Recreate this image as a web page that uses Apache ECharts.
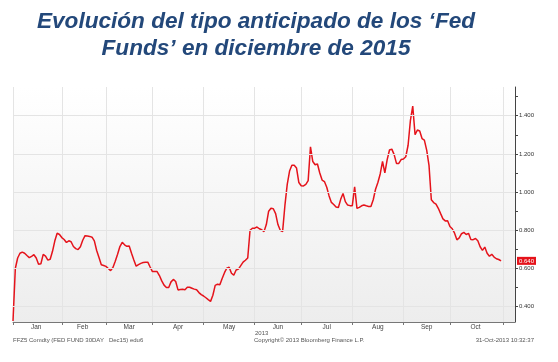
<!DOCTYPE html>
<html><head><meta charset="utf-8">
<script src="https://cdn.jsdelivr.net/npm/echarts@6/dist/echarts.min.js"></script>
<style>html,body{margin:0;padding:0;background:#fff}#c{width:558px;height:362px}</style>
</head><body><div id="c"></div>
<script>
const monthNames = ['Jan','Feb','Mar','Apr','May','Jun','Jul','Aug','Sep','Oct','Nov'];
const holidays = ['2013-01-21','2013-02-18','2013-03-29','2013-05-27','2013-07-04','2013-09-02'];
const firstDay = '2013-01-02';
const lastAxisDay = '2013-11-08';
const rateValues = [
0.325,0.60,0.655,0.68,0.686,0.68,0.668,0.657,0.664,0.672,
0.655,0.622,0.625,0.674,0.665,0.644,0.648,0.69,0.745,0.785,
0.778,0.762,0.752,0.736,0.745,0.74,0.715,0.704,0.699,0.714,
0.748,0.772,0.770,0.768,0.764,0.745,0.694,0.658,0.62,0.616,
0.611,0.60,0.589,0.605,0.638,0.675,0.715,0.737,0.724,0.716,
0.718,0.68,0.645,0.612,0.62,0.627,0.631,0.633,0.633,0.608,
0.584,0.584,0.584,0.563,0.535,0.513,0.501,0.501,0.53,0.543,
0.532,0.488,0.49,0.491,0.489,0.502,0.502,0.497,0.492,0.489,
0.474,0.463,0.456,0.447,0.437,0.428,0.46,0.512,0.518,0.515,
0.548,0.578,0.602,0.607,0.575,0.565,0.592,0.597,0.615,0.633,
0.643,0.655,0.80,0.811,0.811,0.817,0.808,0.803,0.793,0.83,
0.90,0.915,0.913,0.887,0.83,0.80,0.793,0.93,1.04,1.11,
1.14,1.14,1.126,1.05,1.033,1.032,1.04,1.06,1.237,1.16,
1.143,1.147,1.10,1.063,1.055,1.025,0.98,0.946,0.935,0.922,
0.919,0.962,0.993,0.95,0.932,0.929,0.929,1.028,0.915,0.92,
0.928,0.932,0.928,0.925,0.924,0.96,1.015,1.05,1.095,1.16,
1.10,1.17,1.22,1.225,1.196,1.15,1.15,1.17,1.173,1.185,
1.245,1.375,1.45,1.30,1.325,1.32,1.28,1.272,1.22,1.14,
0.96,0.945,0.937,0.915,0.887,0.86,0.849,0.85,0.82,0.808,
0.785,0.75,0.76,0.782,0.789,0.778,0.784,0.752,0.751,0.757,
0.745,0.714,0.695,0.712,0.68,0.664,0.674,0.66,0.651,0.647,
0.640
];
const yTickValues = [0.4,0.5,0.6,0.7,0.8,0.9,1.0,1.1,1.2,1.3,1.4,1.5];
const yLabelValues = [0.4,0.6,0.8,1.0,1.2,1.4];
const lastValueLabel = 0.640;
const titleText = 'Evolución del tipo anticipado de los ‘Fed\nFunds’ en diciembre de 2015';
const footerLeft = 'FFZ5 Comdty (FED FUND 30DAY   Dec15) edu6';
const footerMid = 'Copyright© 2013 Bloomberg Finance L.P.';
const footerRight = '31-Oct-2013 10:32:37';
const yearLabel = '2013';

// trading-day categories
const dates = [];
{
  const end = new Date(lastAxisDay + 'T00:00:00Z');
  for (let d = new Date(firstDay + 'T00:00:00Z'); d <= end; d.setUTCDate(d.getUTCDate() + 1)) {
    const wd = d.getUTCDay();
    const s = d.toISOString().slice(0, 10);
    if (wd === 0 || wd === 6 || holidays.includes(s)) continue;
    dates.push(s);
  }
}
const monthStart = [];
dates.forEach((s, i) => { if (i === 0 || s.slice(5, 7) !== dates[i - 1].slice(5, 7)) monthStart.push(i); });
const tickSet = new Set(monthStart);
const labelMap = {};
for (let k = 0; k < monthStart.length - 1; k++) {
  const mid = Math.floor((monthStart[k] + monthStart[k + 1]) / 2);
  labelMap[mid] = monthNames[parseInt(dates[monthStart[k]].slice(5, 7), 10) - 1];
}

const chart = echarts.init(document.getElementById('c'));
const font = 'Liberation Sans';
chart.setOption({
  backgroundColor: '#ffffff',
  animation: false,
  title: {
    text: titleText, left: 251, top: 3, textAlign: 'center',
    textStyle: { fontFamily: font, fontSize: 22.6, fontWeight: 'bold', fontStyle: 'italic', color: '#23487a', lineHeight: 27 }
  },
  grid: {
    left: 13, right: 43, top: 87, bottom: 40, show: true, borderWidth: 0,
    backgroundColor: { type: 'linear', x: 0, y: 0, x2: 0, y2: 1, colorStops: [{ offset: 0, color: '#ffffff' }, { offset: 1, color: '#ededed' }] }
  },
  xAxis: {
    type: 'category', data: dates, boundaryGap: false,
    axisLine: { lineStyle: { color: '#777', width: 1 } },
    axisTick: { show: true, length: 3, interval: (i) => tickSet.has(i), lineStyle: { color: '#777' } },
    axisLabel: { interval: (i) => labelMap[i] !== undefined, formatter: (v, i) => labelMap[i] || '', fontFamily: font, fontSize: 6.5, color: '#444', margin: 2 },
    splitLine: { show: true, interval: (i) => tickSet.has(i), lineStyle: { color: '#e4e4e4', width: 1 } }
  },
  yAxis: {
    type: 'value', position: 'right', min: 0.32, max: 1.55, scale: true,
    axisLine: { show: true, lineStyle: { color: '#444', width: 1 } },
    axisTick: { show: true, length: 3, customValues: yTickValues, lineStyle: { color: '#444' } },
    axisLabel: { customValues: yLabelValues, formatter: (v) => v.toFixed(3), fontFamily: font, fontSize: 6, color: '#333', margin: 4 },
    splitLine: { show: false }
  },
  series: [
    {
      type: 'line', data: [], z: 1, silent: true,
      markLine: {
        silent: true, symbol: 'none', animation: false,
        label: { show: false },
        lineStyle: { color: '#e4e4e4', width: 1, type: 'solid' },
        data: yLabelValues.map(v => ({ yAxis: v }))
      }
    },
    {
      type: 'line', data: rateValues, z: 3, showSymbol: false, symbol: 'none',
      lineStyle: { color: '#e5131b', width: 1.5 },
      markLine: {
        silent: true, symbol: 'none', animation: false,
        lineStyle: { color: 'rgba(0,0,0,0)', width: 0 },
        label: { show: true, position: 'end', distance: 2, formatter: () => lastValueLabel.toFixed(3),
          backgroundColor: '#e5131b', color: '#fff', fontFamily: font, fontSize: 6, padding: [1, 2, 1, 2] },
        data: [{ yAxis: lastValueLabel }]
      }
    }
  ],
  graphic: [
    { type: 'text', left: 13, top: 337, style: { text: footerLeft, fontFamily: font, fontSize: 6, fill: '#555' } },
    { type: 'text', left: 254, top: 337, style: { text: footerMid, fontFamily: font, fontSize: 6, fill: '#555' } },
    { type: 'text', right: 24, top: 337, style: { text: footerRight, fontFamily: font, fontSize: 6, fill: '#555' } },
    { type: 'text', left: 255, top: 330, style: { text: yearLabel, fontFamily: font, fontSize: 6, fill: '#555' } }
  ]
});
</script>
</body></html>
